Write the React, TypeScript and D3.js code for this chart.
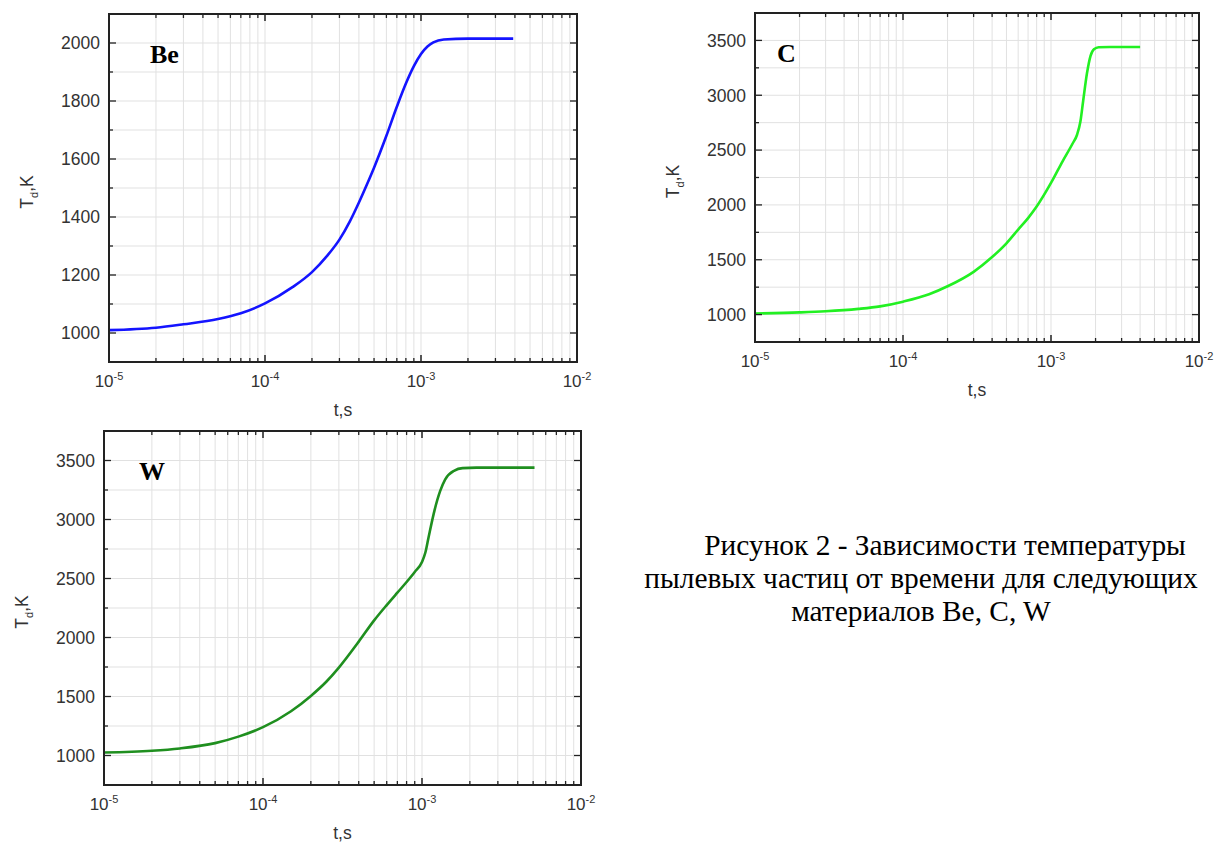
import React from 'react';
import * as d3 from 'd3';

// Be
const beTime = [1e-5, 2e-5, 3e-5, 5e-5, 7e-5, 1e-4, 1.5e-4, 2e-4, 2.5e-4, 3e-4, 3.5e-4, 4e-4, 4.5e-4, 5e-4, 6e-4, 7e-4, 8e-4, 9e-4, 1e-3, 1.1e-3, 1.2e-3, 1.4e-3, 2e-3, 3.9e-3];
const beTemp = [1010, 1018, 1030, 1048, 1068, 1102, 1158, 1210, 1266, 1322, 1385, 1450, 1512, 1570, 1680, 1780, 1860, 1920, 1962, 1988, 2002, 2012, 2015, 2015];

// C
const cTime = [1e-5, 2e-5, 3e-5, 5e-5, 7e-5, 1e-4, 1.5e-4, 2e-4, 3e-4, 4e-4, 5e-4, 6e-4, 7e-4, 8e-4, 1e-3, 1.2e-3, 1.4e-3, 1.5e-3, 1.58e-3, 1.65e-3, 1.75e-3, 1.85e-3, 1.95e-3, 2.1e-3, 2.5e-3, 4e-3];
const cTemp = [1010, 1020, 1030, 1052, 1075, 1118, 1185, 1258, 1390, 1525, 1650, 1775, 1880, 1985, 2200, 2400, 2560, 2640, 2760, 2950, 3200, 3360, 3420, 3438, 3440, 3440];

// W
const wTime = [1e-5, 2e-5, 3e-5, 5e-5, 7e-5, 1e-4, 1.5e-4, 2e-4, 2.5e-4, 3e-4, 4e-4, 5e-4, 6e-4, 7e-4, 8e-4, 9e-4, 1e-3, 1.05e-3, 1.1e-3, 1.2e-3, 1.3e-3, 1.4e-3, 1.6e-3, 1.8e-3, 2.2e-3, 5.1e-3];
const wTemp = [1025, 1040, 1060, 1105, 1160, 1240, 1375, 1505, 1625, 1745, 1965, 2145, 2275, 2380, 2470, 2555, 2640, 2720, 2850, 3080, 3240, 3340, 3415, 3435, 3440, 3440];

const xMajor = [1e-5, 1e-4, 1e-3, 1e-2];
const xExp = ['-5', '-4', '-3', '-2'];
const beYMajor = [1000, 1200, 1400, 1600, 1800, 2000];
const hiYMajor = [1000, 1500, 2000, 2500, 3000, 3500];

const captionLines = [
  '\u00a0\u00a0\u00a0Рисунок 2 - Зависимости температуры',
  'пылевых частиц от времени для следующих',
  'материалов Be, C, W',
];

const SANS = 'Arial, "Liberation Sans", sans-serif';
const SERIF = '"Times New Roman", "Liberation Serif", serif';

type PanelProps = {
  left: number; top: number; right: number; bottom: number;
  time: number[]; temp: number[]; color: string;
  yDomain: [number, number]; yMajor: number[]; yStep: number;
  label: string; labelDx: number;
};

function Panel(p: PanelProps) {
  const x = d3.scaleLog().domain([1e-5, 1e-2]).range([p.left, p.right]);
  const y = d3.scaleLinear().domain(p.yDomain).range([p.bottom, p.top]);

  const xMinor: number[] = [];
  for (let e = -5; e < -2; e++) for (let k = 2; k <= 9; k++) xMinor.push(k * Math.pow(10, e));
  const yAll = d3.range(p.yDomain[0], p.yDomain[1] + 1, p.yStep);

  const pts = p.time.map((t, i) => [t, p.temp[i]] as [number, number]);
  const path = d3.line<[number, number]>()
    .x((d) => x(d[0]))
    .y((d) => y(d[1]))
    .curve(d3.curveMonotoneX)(pts) || '';

  const grid = '#e1e1e1';
  const cy = (p.top + p.bottom) / 2;
  return (
    <g>
      {xMinor.concat(xMajor).map((t, i) => (
        <line key={'gx' + i} x1={x(t)} x2={x(t)} y1={p.top} y2={p.bottom} stroke={grid} strokeWidth={1} />
      ))}
      {yAll.map((v, i) => (
        <line key={'gy' + i} x1={p.left} x2={p.right} y1={y(v)} y2={y(v)} stroke={grid} strokeWidth={1} />
      ))}
      <path d={path} fill="none" stroke={p.color} strokeWidth={2.6} />
      {xMinor.map((t, i) => (
        <g key={'tx' + i} stroke="#222" strokeWidth={1.3}>
          <line x1={x(t)} x2={x(t)} y1={p.bottom} y2={p.bottom - 4} />
          <line x1={x(t)} x2={x(t)} y1={p.top} y2={p.top + 4} />
        </g>
      ))}
      {xMajor.map((t, i) => (
        <g key={'TX' + i} stroke="#222" strokeWidth={1.5}>
          <line x1={x(t)} x2={x(t)} y1={p.bottom} y2={p.bottom - 7} />
          <line x1={x(t)} x2={x(t)} y1={p.top} y2={p.top + 7} />
        </g>
      ))}
      {yAll.map((v, i) => {
        const maj = p.yMajor.includes(v);
        const len = maj ? 7 : 4;
        return (
          <g key={'ty' + i} stroke="#222" strokeWidth={1.3}>
            <line x1={p.left} x2={p.left + len} y1={y(v)} y2={y(v)} />
            <line x1={p.right} x2={p.right - len} y1={y(v)} y2={y(v)} />
          </g>
        );
      })}
      <rect x={p.left} y={p.top} width={p.right - p.left} height={p.bottom - p.top} fill="none" stroke="#222" strokeWidth={2} />
      {p.yMajor.map((v) => (
        <text key={'ly' + v} x={p.left - 9} y={y(v)} dy="0.36em" textAnchor="end" fontFamily={SANS} fontSize={17.5} fill="#333">{v}</text>
      ))}
      {xMajor.map((t, i) => (
        <text key={'lx' + i} x={x(t)} y={p.bottom + 25} textAnchor="middle" fontFamily={SANS} fontSize={17} fill="#333">
          10<tspan dy={-7} fontSize={11}>{xExp[i]}</tspan>
        </text>
      ))}
      <text x={(p.left + p.right) / 2} y={p.bottom + 54} textAnchor="middle" fontFamily={SANS} fontSize={17.5} fill="#333">t,s</text>
      <text transform={`translate(${p.left - 76},${cy + 4}) rotate(-90)`} textAnchor="middle" fontFamily={SANS} fontSize={17.5} fill="#333">
        T<tspan dy={5} fontSize={11}>d</tspan><tspan dy={-5}>,K</tspan>
      </text>
      <text x={p.left + p.labelDx} y={p.top + 49} fontFamily={SERIF} fontWeight="bold" fontSize={26} fill="#000">{p.label}</text>
    </g>
  );
}

export default function App() {
  return (
    <div style={{ position: 'absolute', left: 0, top: 0 }}>
      <svg width={1217} height={856} style={{ display: 'block', background: '#fff' }}>
        <Panel left={109} top={14} right={577} bottom={362} time={beTime} temp={beTemp} color="#1414ff"
          yDomain={[900, 2100]} yMajor={beYMajor} yStep={100} label="Be" labelDx={41} />
        <Panel left={755} top={13} right={1199} bottom={342} time={cTime} temp={cTemp} color="#22f022"
          yDomain={[750, 3750]} yMajor={hiYMajor} yStep={250} label="C" labelDx={22} />
        <Panel left={104} top={431} right={581} bottom={785} time={wTime} temp={wTemp} color="#1f8f1f"
          yDomain={[750, 3750]} yMajor={hiYMajor} yStep={250} label="W" labelDx={35} />
        {captionLines.map((s, i) => (
          <text key={i} x={i === 0 ? 934 : 921} y={555 + i * 33} textAnchor="middle" fontFamily={SERIF} fontSize={29.4} fill="#000">{s}</text>
        ))}
      </svg>
    </div>
  );
}
